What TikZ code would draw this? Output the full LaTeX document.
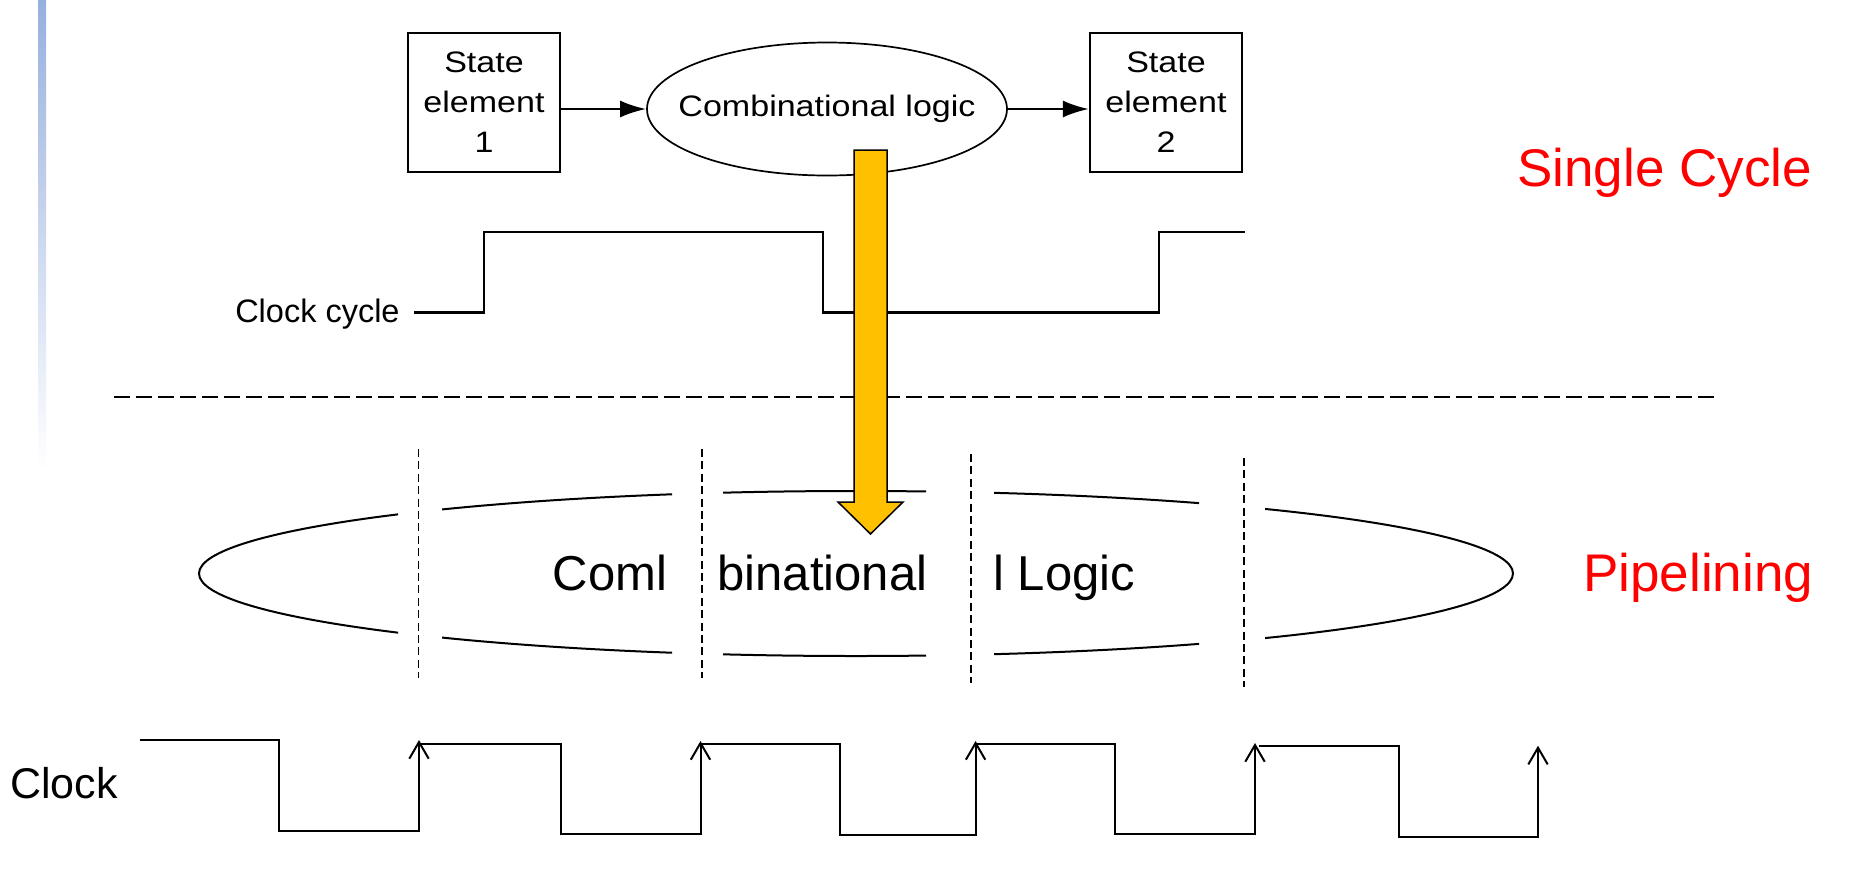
\documentclass[tikz,border=0pt]{standalone}
\usepackage{fontspec}
\setmainfont{Liberation Sans}
\newfontfamily\widefont[FakeStretch=1.15]{Liberation Sans}
\usetikzlibrary{arrows.meta,shapes.geometric}
\definecolor{arrowyellow}{HTML}{FFC000}
\definecolor{barblue}{RGB}{150,176,222}
\begin{document}
\begin{tikzpicture}[x=0.5pt,y=-0.5pt,
  stbox/.style={draw,line width=1.1pt,minimum width=76pt,minimum height=69.6pt,inner sep=0pt,align=center,
    font=\widefont\fontsize{14.8}{19.85}\selectfont},
  combell/.style={ellipse,draw,line width=0.85pt,minimum width=180pt,minimum height=66.5pt,
    inner xsep=-11.2pt,inner ysep=0pt,
    font=\widefont\fontsize{14.8}{17}\selectfont},
  conn/.style={line width=1.25pt,-{Latex[length=13pt,width=8.5pt]}},
  redlabel/.style={text=red,inner sep=0pt,anchor=base west,font=\fontsize{26.5}{30}\selectfont},
  bigtext/.style={inner sep=0pt,anchor=base west,font=\fontsize{24.5}{29}\selectfont},
  topwave/.style={line width=1.25pt},
  botwave/.style={line width=1pt},
  sepline/.style={line width=1pt,dash pattern=on 8pt off 3pt},
  stageline/.style={line width=0.7pt,dash pattern=on 4pt off 2.2pt},
  pipeell/.style={line width=1pt},
  barb/.style={line width=1pt},
  bigarrow/.style={fill=arrowyellow,draw=black,line width=0.75pt,line join=miter}
]
\useasboundingbox (0,0) rectangle (1849,874);
\fill[white] (0,0) rectangle (1849,874);
% left decorative bar
\shade[top color=barblue,bottom color=white] (38,0) rectangle (46,470);

% ---------- single cycle ----------
\node[stbox] (se1) at (484,102.35) {State\\element\\1};
\node[combell] (cl) at (827,109) {Combinational logic};
\node[stbox] (se2) at (1166,102.35) {State\\element\\2};
\draw[conn] (se1.east |- cl.west) -- (cl.west);
\draw[conn] (cl.east) -- (cl.east -| se2.west);

\node[redlabel] (sc) at (1517,186.7) {Single Cycle};

\node[inner sep=0pt,anchor=base east,font=\fontsize{16.25}{19}\selectfont] (cc) at (400,322.7) {Clock cycle};
\draw[topwave] (414,312.7) -- (484,312.7) -- (484,232) -- (823,232) -- (823,312.7)
  -- (1159,312.7) -- (1159,232) -- (1245,232);

% separator
\draw[sepline] (114,397) -- (1714,397);

% ---------- pipelining ----------
\foreach \a/\b in {150/398,442/672,723/926,994/1199,1265/1560}{
  \begin{scope}
    \clip (\a,400) rectangle (\b,760);
    \draw[pipeell] (856,573.5) ellipse [x radius=657, y radius=82.5];
  \end{scope}
}
\draw[stageline] (418.5,449) -- (418.5,678);
\draw[stageline] (702,449) -- (702,678);
\draw[stageline] (971,454) -- (971,683);
\draw[stageline] (1244,458) -- (1244,687);

\node[bigtext] (t1) at (552.5,590) {Coml};
\node[bigtext] (t2) at (717,590) {binational};
\node[bigtext] (t3) at (993,590) {l Logic};

\node[redlabel] (pl) at (1583,591) {Pipelining};

% ---------- clock ----------
\node[inner sep=0pt,anchor=base west,font=\fontsize{21.5}{25}\selectfont] (ck) at (10,798) {Clock};
\draw[botwave] (139.5,740) -- (279,740) -- (279,830.7) -- (419,830.7) -- (419,743.7)
  -- (560.5,743.7) -- (560.5,834) -- (700.5,834) -- (700.5,744.3)
  -- (840,744.3) -- (840,835) -- (975.6,835) -- (975.6,743.7)
  -- (1115,743.7) -- (1115,834.3) -- (1255,834.3) -- (1255,745);
\draw[botwave] (1259,745.7) -- (1398.6,745.7) -- (1398.6,836.7) -- (1538,836.7) -- (1538,747.7);
\foreach \x/\y in {419/742,700.5/743,975.6/743,1255/745,1538/747.7}{
  \draw[barb] (\x-9.7,\y+16.7) -- (\x,\y) -- (\x+9.7,\y+16.7);
}

% ---------- big arrow ----------
\draw[bigarrow] (854,150) -- (887,150) -- (887,502) -- (903,502) -- (870.5,534)
  -- (838,502) -- (854,502) -- cycle;
\end{tikzpicture}
\end{document}
